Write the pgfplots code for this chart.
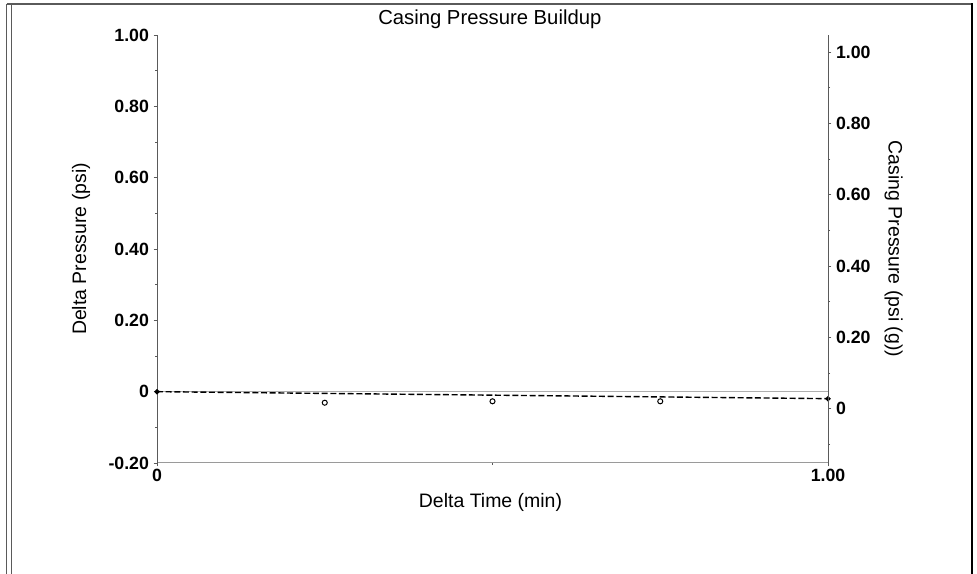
\documentclass[border=0pt]{standalone}
\usepackage{fontspec}
\setmainfont{Liberation Sans}
\usepackage{pgfplots}
\pgfplotsset{compat=1.18}
\definecolor{axgray}{HTML}{5A5A5A}
\definecolor{lightax}{HTML}{9A9A9A}
\begin{document}
\begin{tikzpicture}[x=0.75pt,y=0.75pt]
\useasboundingbox (0,0) rectangle (977,574);
\begin{axis}[
  at={(117.75pt,83.25pt)}, anchor=south west,
  scale only axis, width=503.25pt, height=321pt,
  xmin=0, xmax=1, ymin=-0.2, ymax=1.0,
  axis x line*=bottom, axis y line*=left,
  x axis line style={lightax, line width=0.75pt, -},
  y axis line style={axgray, line width=0.75pt, -},
  tick align=outside,
  major tick length=2.5pt, minor tick length=1.5pt,
  every tick/.style={axgray, line width=0.6pt},
  xtick={0,1}, xticklabels={0,1.00},
  minor xtick={0.5},
  ytick={-0.2,0,0.2,0.4,0.6,0.8,1.0},
  yticklabels={-0.20,0,0.20,0.40,0.60,0.80,1.00},
  minor ytick={-0.1,0.1,0.3,0.5,0.7,0.9},
  tick label style={font=\fontsize{13.3}{14}\selectfont\bfseries},
  xticklabel style={yshift=1.5pt},
  xlabel={Delta Time (min)},
  ylabel={Delta Pressure (psi)},
  label style={font=\fontsize{14.6}{16}\selectfont},
  xlabel style={at={(axis description cs:0.5,0)}, anchor=center, yshift=-29.25pt, xshift=-1.5pt},
  ylabel style={at={(axis description cs:-0.1133,0.5)}, anchor=center},
  title={Casing Pressure Buildup},
  title style={font=\fontsize{15.2}{16}\selectfont, at={(axis description cs:0.5,1)}, anchor=center, yshift=5.75pt, xshift=-2pt},
  clip=false,
]
\addplot[lightax!80, line width=0.75pt] coordinates {(0,0) (1,0)};
\addplot[black, line width=1.05pt, dash pattern=on 4.5pt off 2pt, mark=*, mark size=1.4pt, mark options={solid}] coordinates {(0,0) (1,-0.0196)};
\addplot[only marks, mark=o, mark size=1.9pt, mark options={black, line width=0.75pt}] coordinates {(0.25,-0.031) (0.5,-0.027) (0.75,-0.027)};
\end{axis}
\begin{axis}[
  at={(117.75pt,83.25pt)}, anchor=south west,
  scale only axis, width=503.25pt, height=321pt,
  xmin=0, xmax=1, ymin=-0.1523, ymax=1.0477,
  axis x line=none, axis y line*=right,
  y axis line style={axgray, line width=0.75pt, -},
  tick align=outside,
  major tick length=2.5pt, minor tick length=1.5pt,
  every tick/.style={axgray, line width=0.6pt},
  ytick={0,0.2,0.4,0.6,0.8,1.0},
  yticklabels={0,0.20,0.40,0.60,0.80,1.00},
  minor ytick={-0.1,0.1,0.3,0.5,0.7,0.9},
  tick label style={font=\fontsize{13.3}{14}\selectfont\bfseries},
  ylabel={Casing Pressure (psi (g))},
  label style={font=\fontsize{14.6}{16}\selectfont},
  ylabel style={at={(axis description cs:1.098,0.5)}, anchor=center, rotate=180},
  clip=false,
]
\addplot[draw=none] coordinates {(0,0) (1,0)};
\end{axis}
% page frame of the scanned report
\draw[axgray, line width=0.9pt] (6.5,0) -- (6.5,570);
\draw[axgray, line width=0.9pt] (11.5,0) -- (11.5,570);
\draw[axgray, line width=1.5pt] (6.5,570) -- (972,570);
\draw[black, line width=2pt] (972,0) -- (972,570.75);
\end{tikzpicture}
\end{document}
